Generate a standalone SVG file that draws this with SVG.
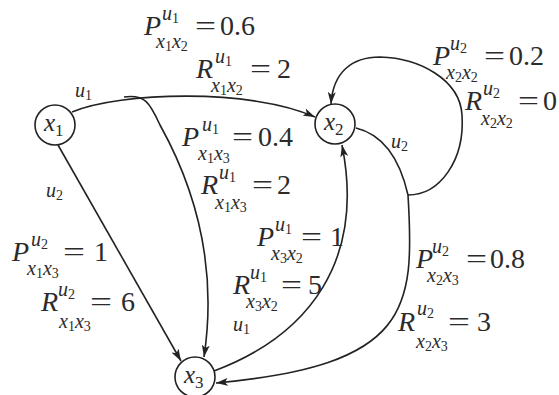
<svg xmlns="http://www.w3.org/2000/svg" width="559" height="395" viewBox="0 0 559 395">
<defs>
<marker id="ah" viewBox="0 0 12 8" refX="12" refY="4" markerWidth="12" markerHeight="8" markerUnits="userSpaceOnUse" orient="auto">
<path d="M0,0 L12,4 L0,8 L3,4 Z" fill="#222"/>
</marker>
</defs>
<g id="edges" fill="none" stroke="#222" stroke-width="1.6">
<path id="e1" d="M72,112 C120,92 250,88 315,117" marker-end="url(#ah)"/>
<path id="e2" d="M124,97 C145,94 150,103 160,125 C185,170 220,250 204,357" marker-end="url(#ah)"/>
<path id="e3" d="M58,145 L181,361" marker-end="url(#ah)"/>
<path id="e4" d="M214,371 C310,335 365,260 342,145" marker-end="url(#ah)"/>
<path id="e5" d="M356,128 C385,135 400,160 408,195 C415,310 410,365 216,383" marker-end="url(#ah)"/>
<path id="e6" d="M408,195 C440,195 465,160 462,115 C460,80 420,58 380,57 C352,57 333,72 331,104" marker-end="url(#ah)"/>
</g>
<g id="nodes" font-family="Liberation Serif" fill="#2b2b2b">
<g id="x1"><circle cx="55" cy="125" r="20" fill="#fff" stroke="#222" stroke-width="1.6"/><text transform="translate(44,131) scale(0.2)" font-family="Liberation Serif" font-style="italic" font-size="125">x<tspan font-style="normal" font-size="85" dy="25">1</tspan></text></g>
<g id="x2"><circle cx="335" cy="124" r="20" fill="#fff" stroke="#222" stroke-width="1.6"/><text transform="translate(324,130) scale(0.2)" font-family="Liberation Serif" font-style="italic" font-size="125">x<tspan font-style="normal" font-size="85" dy="25">2</tspan></text></g>
<g id="x3"><circle cx="195" cy="377" r="20" fill="#fff" stroke="#222" stroke-width="1.6"/><text transform="translate(184,383) scale(0.2)" font-family="Liberation Serif" font-style="italic" font-size="125">x<tspan font-style="normal" font-size="85" dy="25">3</tspan></text></g>
</g>
<g id="labels" font-family="Liberation Serif" fill="#2b2b2b">
<text transform="translate(75,97) scale(0.2)" font-family="Liberation Serif" font-style="italic" font-size="100">u<tspan font-style="normal" font-size="70" dy="15">1</tspan></text>
<text transform="translate(46,197) scale(0.2)" font-family="Liberation Serif" font-style="italic" font-size="100">u<tspan font-style="normal" font-size="70" dy="15">2</tspan></text>
<text transform="translate(391,148) scale(0.2)" font-family="Liberation Serif" font-style="italic" font-size="100">u<tspan font-style="normal" font-size="70" dy="15">2</tspan></text>
<text transform="translate(233,331) scale(0.2)" font-family="Liberation Serif" font-style="italic" font-size="100">u<tspan font-style="normal" font-size="70" dy="15">1</tspan></text>

<text transform="translate(144,35) scale(0.2)" font-family="Liberation Serif" font-style="italic" font-size="140">P</text>
<text transform="translate(162,20) scale(0.2)" font-family="Liberation Serif" font-style="italic" font-size="100">u<tspan font-style="normal" font-size="70" dy="15">1</tspan></text>
<text transform="translate(156,48) scale(0.2)" font-family="Liberation Serif" font-style="italic" font-size="100">x<tspan font-style="normal" font-size="70" dy="15">1</tspan><tspan dy="-15">x</tspan><tspan font-style="normal" font-size="70" dy="15">2</tspan></text>
<text transform="translate(195,35) scale(0.2)" font-family="Liberation Serif" font-size="140" textLength="105" lengthAdjust="spacingAndGlyphs">=</text>
<text transform="translate(220,35) scale(0.2)" font-family="Liberation Serif" font-size="140">0.6</text>

<text transform="translate(196,78) scale(0.2)" font-family="Liberation Serif" font-style="italic" font-size="140">R</text>
<text transform="translate(215,63) scale(0.2)" font-family="Liberation Serif" font-style="italic" font-size="100">u<tspan font-style="normal" font-size="70" dy="15">1</tspan></text>
<text transform="translate(211,92) scale(0.2)" font-family="Liberation Serif" font-style="italic" font-size="100">x<tspan font-style="normal" font-size="70" dy="15">1</tspan><tspan dy="-15">x</tspan><tspan font-style="normal" font-size="70" dy="15">2</tspan></text>
<text transform="translate(250,78) scale(0.2)" font-family="Liberation Serif" font-size="140" textLength="105" lengthAdjust="spacingAndGlyphs">=</text>
<text transform="translate(277,78) scale(0.2)" font-family="Liberation Serif" font-size="140">2</text>

<text transform="translate(182,146) scale(0.2)" font-family="Liberation Serif" font-style="italic" font-size="140">P</text>
<text transform="translate(202,131) scale(0.2)" font-family="Liberation Serif" font-style="italic" font-size="100">u<tspan font-style="normal" font-size="70" dy="15">1</tspan></text>
<text transform="translate(198,160) scale(0.2)" font-family="Liberation Serif" font-style="italic" font-size="100">x<tspan font-style="normal" font-size="70" dy="15">1</tspan><tspan dy="-15">x</tspan><tspan font-style="normal" font-size="70" dy="15">3</tspan></text>
<text transform="translate(232,146) scale(0.2)" font-family="Liberation Serif" font-size="140" textLength="105" lengthAdjust="spacingAndGlyphs">=</text>
<text transform="translate(258,146) scale(0.2)" font-family="Liberation Serif" font-size="140">0.4</text>

<text transform="translate(201,194) scale(0.2)" font-family="Liberation Serif" font-style="italic" font-size="140">R</text>
<text transform="translate(219,179) scale(0.2)" font-family="Liberation Serif" font-style="italic" font-size="100">u<tspan font-style="normal" font-size="70" dy="15">1</tspan></text>
<text transform="translate(215,209) scale(0.2)" font-family="Liberation Serif" font-style="italic" font-size="100">x<tspan font-style="normal" font-size="70" dy="15">1</tspan><tspan dy="-15">x</tspan><tspan font-style="normal" font-size="70" dy="15">3</tspan></text>
<text transform="translate(252,194) scale(0.2)" font-family="Liberation Serif" font-size="140" textLength="105" lengthAdjust="spacingAndGlyphs">=</text>
<text transform="translate(277,194) scale(0.2)" font-family="Liberation Serif" font-size="140">2</text>

<text transform="translate(257,246) scale(0.2)" font-family="Liberation Serif" font-style="italic" font-size="140">P</text>
<text transform="translate(275,231) scale(0.2)" font-family="Liberation Serif" font-style="italic" font-size="100">u<tspan font-style="normal" font-size="70" dy="15">1</tspan></text>
<text transform="translate(271,260) scale(0.2)" font-family="Liberation Serif" font-style="italic" font-size="100">x<tspan font-style="normal" font-size="70" dy="15">3</tspan><tspan dy="-15">x</tspan><tspan font-style="normal" font-size="70" dy="15">2</tspan></text>
<text transform="translate(301,246) scale(0.2)" font-family="Liberation Serif" font-size="140" textLength="105" lengthAdjust="spacingAndGlyphs">=</text>
<text transform="translate(330,246) scale(0.2)" font-family="Liberation Serif" font-size="140">1</text>

<text transform="translate(233,294) scale(0.2)" font-family="Liberation Serif" font-style="italic" font-size="140">R</text>
<text transform="translate(250,279) scale(0.2)" font-family="Liberation Serif" font-style="italic" font-size="100">u<tspan font-style="normal" font-size="70" dy="15">1</tspan></text>
<text transform="translate(246,308) scale(0.2)" font-family="Liberation Serif" font-style="italic" font-size="100">x<tspan font-style="normal" font-size="70" dy="15">3</tspan><tspan dy="-15">x</tspan><tspan font-style="normal" font-size="70" dy="15">2</tspan></text>
<text transform="translate(281,294) scale(0.2)" font-family="Liberation Serif" font-size="140" textLength="105" lengthAdjust="spacingAndGlyphs">=</text>
<text transform="translate(308,294) scale(0.2)" font-family="Liberation Serif" font-size="140">5</text>

<text transform="translate(12,261) scale(0.2)" font-family="Liberation Serif" font-style="italic" font-size="140">P</text>
<text transform="translate(31,246) scale(0.2)" font-family="Liberation Serif" font-style="italic" font-size="100">u<tspan font-style="normal" font-size="70" dy="15">2</tspan></text>
<text transform="translate(27,275) scale(0.2)" font-family="Liberation Serif" font-style="italic" font-size="100">x<tspan font-style="normal" font-size="70" dy="15">1</tspan><tspan dy="-15">x</tspan><tspan font-style="normal" font-size="70" dy="15">3</tspan></text>
<text transform="translate(63,261) scale(0.2)" font-family="Liberation Serif" font-size="140" textLength="110" lengthAdjust="spacingAndGlyphs">=</text>
<text transform="translate(94,261) scale(0.2)" font-family="Liberation Serif" font-size="140">1</text>

<text transform="translate(41,311) scale(0.2)" font-family="Liberation Serif" font-style="italic" font-size="140">R</text>
<text transform="translate(58,296) scale(0.2)" font-family="Liberation Serif" font-style="italic" font-size="100">u<tspan font-style="normal" font-size="70" dy="15">2</tspan></text>
<text transform="translate(59,328) scale(0.2)" font-family="Liberation Serif" font-style="italic" font-size="100">x<tspan font-style="normal" font-size="70" dy="15">1</tspan><tspan dy="-15">x</tspan><tspan font-style="normal" font-size="70" dy="15">3</tspan></text>
<text transform="translate(90,311) scale(0.2)" font-family="Liberation Serif" font-size="140" textLength="110" lengthAdjust="spacingAndGlyphs">=</text>
<text transform="translate(121,311) scale(0.2)" font-family="Liberation Serif" font-size="140">6</text>

<text transform="translate(433,65) scale(0.2)" font-family="Liberation Serif" font-style="italic" font-size="140">P</text>
<text transform="translate(450,50) scale(0.2)" font-family="Liberation Serif" font-style="italic" font-size="100">u<tspan font-style="normal" font-size="70" dy="15">2</tspan></text>
<text transform="translate(446,79) scale(0.2)" font-family="Liberation Serif" font-style="italic" font-size="100">x<tspan font-style="normal" font-size="70" dy="15">2</tspan><tspan dy="-15">x</tspan><tspan font-style="normal" font-size="70" dy="15">2</tspan></text>
<text transform="translate(484,65) scale(0.2)" font-family="Liberation Serif" font-size="140" textLength="105" lengthAdjust="spacingAndGlyphs">=</text>
<text transform="translate(509,65) scale(0.2)" font-family="Liberation Serif" font-size="140">0.2</text>

<text transform="translate(465,110) scale(0.2)" font-family="Liberation Serif" font-style="italic" font-size="140">R</text>
<text transform="translate(483,95) scale(0.2)" font-family="Liberation Serif" font-style="italic" font-size="100">u<tspan font-style="normal" font-size="70" dy="15">2</tspan></text>
<text transform="translate(481,125) scale(0.2)" font-family="Liberation Serif" font-style="italic" font-size="100">x<tspan font-style="normal" font-size="70" dy="15">2</tspan><tspan dy="-15">x</tspan><tspan font-style="normal" font-size="70" dy="15">2</tspan></text>
<text transform="translate(518,110) scale(0.2)" font-family="Liberation Serif" font-size="140" textLength="105" lengthAdjust="spacingAndGlyphs">=</text>
<text transform="translate(543,110) scale(0.2)" font-family="Liberation Serif" font-size="140">0</text>

<text transform="translate(416,268) scale(0.2)" font-family="Liberation Serif" font-style="italic" font-size="140">P</text>
<text transform="translate(432,253) scale(0.2)" font-family="Liberation Serif" font-style="italic" font-size="100">u<tspan font-style="normal" font-size="70" dy="15">2</tspan></text>
<text transform="translate(427,282) scale(0.2)" font-family="Liberation Serif" font-style="italic" font-size="100">x<tspan font-style="normal" font-size="70" dy="15">2</tspan><tspan dy="-15">x</tspan><tspan font-style="normal" font-size="70" dy="15">3</tspan></text>
<text transform="translate(466,268) scale(0.2)" font-family="Liberation Serif" font-size="140" textLength="105" lengthAdjust="spacingAndGlyphs">=</text>
<text transform="translate(490,268) scale(0.2)" font-family="Liberation Serif" font-size="140">0.8</text>

<text transform="translate(398,331) scale(0.2)" font-family="Liberation Serif" font-style="italic" font-size="140">R</text>
<text transform="translate(417,315) scale(0.2)" font-family="Liberation Serif" font-style="italic" font-size="100">u<tspan font-style="normal" font-size="70" dy="15">2</tspan></text>
<text transform="translate(416,348) scale(0.2)" font-family="Liberation Serif" font-style="italic" font-size="100">x<tspan font-style="normal" font-size="70" dy="15">2</tspan><tspan dy="-15">x</tspan><tspan font-style="normal" font-size="70" dy="15">3</tspan></text>
<text transform="translate(448,331) scale(0.2)" font-family="Liberation Serif" font-size="140" textLength="110" lengthAdjust="spacingAndGlyphs">=</text>
<text transform="translate(477,331) scale(0.2)" font-family="Liberation Serif" font-size="140">3</text>
</g>
</svg>
